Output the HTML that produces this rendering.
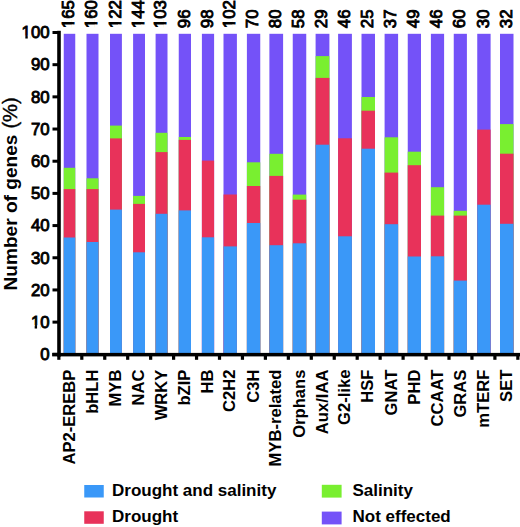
<!DOCTYPE html>
<html><head><meta charset="utf-8"><style>
html,body{margin:0;padding:0;background:#fff;}
svg{display:block;}
.tl{font-family:"Liberation Sans",sans-serif;font-weight:bold;font-size:16.6px;fill:#000;}
.nm{font-family:"Liberation Sans",sans-serif;font-weight:normal;font-size:16.8px;fill:#000;stroke:#000;stroke-width:0.9px;}
.yt{font-family:"Liberation Sans",sans-serif;font-weight:bold;font-size:19.4px;fill:#000;}
.lg{font-family:"Liberation Sans",sans-serif;font-weight:bold;font-size:17px;fill:#000;}
</style></head><body>
<svg width="520" height="527" viewBox="0 0 520 527">
<rect x="0" y="0" width="520" height="527" fill="#fff"/>
<rect x="63.75" y="33.8" width="11.50" height="319.20" fill="#7452f8"/>
<rect x="63.75" y="167.8" width="11.50" height="185.20" fill="#79ef30"/>
<rect x="63.75" y="189.1" width="11.50" height="163.90" fill="#e8325a"/>
<rect x="63.75" y="237.5" width="11.50" height="115.50" fill="#3a98f8"/>
<rect x="86.5" y="33.8" width="12.00" height="319.20" fill="#7452f8"/>
<rect x="86.5" y="178.3" width="12.00" height="174.70" fill="#79ef30"/>
<rect x="86.5" y="189.1" width="12.00" height="163.90" fill="#e8325a"/>
<rect x="86.5" y="242" width="12.00" height="111.00" fill="#3a98f8"/>
<rect x="110" y="33.8" width="11.90" height="319.20" fill="#7452f8"/>
<rect x="110" y="125.6" width="11.90" height="227.40" fill="#79ef30"/>
<rect x="110" y="138.4" width="11.90" height="214.60" fill="#e8325a"/>
<rect x="110" y="209.6" width="11.90" height="143.40" fill="#3a98f8"/>
<rect x="133.1" y="33.8" width="11.90" height="319.20" fill="#7452f8"/>
<rect x="133.1" y="195.9" width="11.90" height="157.10" fill="#79ef30"/>
<rect x="133.1" y="203.9" width="11.90" height="149.10" fill="#e8325a"/>
<rect x="133.1" y="252.3" width="11.90" height="100.70" fill="#3a98f8"/>
<rect x="155.6" y="33.8" width="11.90" height="319.20" fill="#7452f8"/>
<rect x="155.6" y="132.8" width="11.90" height="220.20" fill="#79ef30"/>
<rect x="155.6" y="152.1" width="11.90" height="200.90" fill="#e8325a"/>
<rect x="155.6" y="213.8" width="11.90" height="139.20" fill="#3a98f8"/>
<rect x="178.75" y="33.8" width="12.25" height="319.20" fill="#7452f8"/>
<rect x="178.75" y="137" width="12.25" height="216.00" fill="#79ef30"/>
<rect x="178.75" y="139.9" width="12.25" height="213.10" fill="#e8325a"/>
<rect x="178.75" y="210.4" width="12.25" height="142.60" fill="#3a98f8"/>
<rect x="201.9" y="33.8" width="12.20" height="319.20" fill="#7452f8"/>
<rect x="201.9" y="160.6" width="12.20" height="192.40" fill="#e8325a"/>
<rect x="201.9" y="237.3" width="12.20" height="115.70" fill="#3a98f8"/>
<rect x="223.5" y="33.8" width="13.40" height="319.20" fill="#7452f8"/>
<rect x="223.5" y="194.5" width="13.40" height="158.50" fill="#e8325a"/>
<rect x="223.5" y="246.4" width="13.40" height="106.60" fill="#3a98f8"/>
<rect x="246.9" y="33.8" width="13.35" height="319.20" fill="#7452f8"/>
<rect x="246.9" y="162.3" width="13.35" height="190.70" fill="#79ef30"/>
<rect x="246.9" y="186" width="13.35" height="167.00" fill="#e8325a"/>
<rect x="246.9" y="223" width="13.35" height="130.00" fill="#3a98f8"/>
<rect x="269.4" y="33.8" width="13.70" height="319.20" fill="#7452f8"/>
<rect x="269.4" y="153.8" width="13.70" height="199.20" fill="#79ef30"/>
<rect x="269.4" y="175.9" width="13.70" height="177.10" fill="#e8325a"/>
<rect x="269.4" y="245.2" width="13.70" height="107.80" fill="#3a98f8"/>
<rect x="292.75" y="33.8" width="13.50" height="319.20" fill="#7452f8"/>
<rect x="292.75" y="194.6" width="13.50" height="158.40" fill="#79ef30"/>
<rect x="292.75" y="199.7" width="13.50" height="153.30" fill="#e8325a"/>
<rect x="292.75" y="243.3" width="13.50" height="109.70" fill="#3a98f8"/>
<rect x="315.6" y="33.8" width="13.80" height="319.20" fill="#7452f8"/>
<rect x="315.6" y="56.1" width="13.80" height="296.90" fill="#79ef30"/>
<rect x="315.6" y="77.9" width="13.80" height="275.10" fill="#e8325a"/>
<rect x="315.6" y="144.7" width="13.80" height="208.30" fill="#3a98f8"/>
<rect x="338.1" y="33.8" width="13.80" height="319.20" fill="#7452f8"/>
<rect x="338.1" y="138.3" width="13.80" height="214.70" fill="#e8325a"/>
<rect x="338.1" y="236.3" width="13.80" height="116.70" fill="#3a98f8"/>
<rect x="361.5" y="33.8" width="13.50" height="319.20" fill="#7452f8"/>
<rect x="361.5" y="97" width="13.50" height="256.00" fill="#79ef30"/>
<rect x="361.5" y="110.7" width="13.50" height="242.30" fill="#e8325a"/>
<rect x="361.5" y="148.7" width="13.50" height="204.30" fill="#3a98f8"/>
<rect x="384.6" y="33.8" width="13.50" height="319.20" fill="#7452f8"/>
<rect x="384.6" y="137.3" width="13.50" height="215.70" fill="#79ef30"/>
<rect x="384.6" y="172.6" width="13.50" height="180.40" fill="#e8325a"/>
<rect x="384.6" y="224.2" width="13.50" height="128.80" fill="#3a98f8"/>
<rect x="407.75" y="33.8" width="13.25" height="319.20" fill="#7452f8"/>
<rect x="407.75" y="151.7" width="13.25" height="201.30" fill="#79ef30"/>
<rect x="407.75" y="165.2" width="13.25" height="187.80" fill="#e8325a"/>
<rect x="407.75" y="256.5" width="13.25" height="96.50" fill="#3a98f8"/>
<rect x="430.9" y="33.8" width="13.20" height="319.20" fill="#7452f8"/>
<rect x="430.9" y="187.2" width="13.20" height="165.80" fill="#79ef30"/>
<rect x="430.9" y="215.6" width="13.20" height="137.40" fill="#e8325a"/>
<rect x="430.9" y="256.3" width="13.20" height="96.70" fill="#3a98f8"/>
<rect x="453.75" y="33.8" width="13.15" height="319.20" fill="#7452f8"/>
<rect x="453.75" y="210.8" width="13.15" height="142.20" fill="#79ef30"/>
<rect x="453.75" y="215.6" width="13.15" height="137.40" fill="#e8325a"/>
<rect x="453.75" y="280.6" width="13.15" height="72.40" fill="#3a98f8"/>
<rect x="477.25" y="33.8" width="13.35" height="319.20" fill="#7452f8"/>
<rect x="477.25" y="129.6" width="13.35" height="223.40" fill="#e8325a"/>
<rect x="477.25" y="204.7" width="13.35" height="148.30" fill="#3a98f8"/>
<rect x="500" y="33.8" width="13.50" height="319.20" fill="#7452f8"/>
<rect x="500" y="124.1" width="13.50" height="228.90" fill="#79ef30"/>
<rect x="500" y="153.7" width="13.50" height="199.30" fill="#e8325a"/>
<rect x="500" y="223.8" width="13.50" height="129.20" fill="#3a98f8"/>
<rect x="57.2" y="30.8" width="3.6" height="325.8" fill="#000"/>
<rect x="52.2" y="352.9" width="467.8" height="3.5" fill="#000"/>
<rect x="52.5" y="352.80" width="6" height="3" fill="#000"/>
<text x="49.6" y="360.10" text-anchor="end" class="nm">0</text>
<rect x="52.5" y="320.62" width="6" height="3" fill="#000"/>
<text x="49.6" y="327.92" text-anchor="end" class="nm">10</text>
<rect x="30.94" y="325.31" width="3.74" height="3.81" fill="#fff"/>
<rect x="37.07" y="325.31" width="3.16" height="3.81" fill="#fff"/>
<rect x="52.5" y="288.44" width="6" height="3" fill="#000"/>
<text x="49.6" y="295.74" text-anchor="end" class="nm">20</text>
<rect x="52.5" y="256.26" width="6" height="3" fill="#000"/>
<text x="49.6" y="263.56" text-anchor="end" class="nm">30</text>
<rect x="52.5" y="224.08" width="6" height="3" fill="#000"/>
<text x="49.6" y="231.38" text-anchor="end" class="nm">40</text>
<rect x="52.5" y="191.90" width="6" height="3" fill="#000"/>
<text x="49.6" y="199.20" text-anchor="end" class="nm">50</text>
<rect x="52.5" y="159.72" width="6" height="3" fill="#000"/>
<text x="49.6" y="167.02" text-anchor="end" class="nm">60</text>
<rect x="52.5" y="127.54" width="6" height="3" fill="#000"/>
<text x="49.6" y="134.84" text-anchor="end" class="nm">70</text>
<rect x="52.5" y="95.36" width="6" height="3" fill="#000"/>
<text x="49.6" y="102.66" text-anchor="end" class="nm">80</text>
<rect x="52.5" y="63.18" width="6" height="3" fill="#000"/>
<text x="49.6" y="70.48" text-anchor="end" class="nm">90</text>
<rect x="52.5" y="31.00" width="6" height="3" fill="#000"/>
<text x="49.6" y="38.30" text-anchor="end" class="nm">100</text>
<rect x="21.60" y="35.69" width="3.74" height="3.81" fill="#fff"/>
<rect x="27.73" y="35.69" width="3.16" height="3.81" fill="#fff"/>
<rect x="57.25" y="354" width="3.2" height="5.8" fill="#000"/>
<rect x="80.20" y="354" width="3.2" height="5.8" fill="#000"/>
<rect x="103.15" y="354" width="3.2" height="5.8" fill="#000"/>
<rect x="126.10" y="354" width="3.2" height="5.8" fill="#000"/>
<rect x="149.05" y="354" width="3.2" height="5.8" fill="#000"/>
<rect x="172.00" y="354" width="3.2" height="5.8" fill="#000"/>
<rect x="194.95" y="354" width="3.2" height="5.8" fill="#000"/>
<rect x="217.90" y="354" width="3.2" height="5.8" fill="#000"/>
<rect x="240.85" y="354" width="3.2" height="5.8" fill="#000"/>
<rect x="263.80" y="354" width="3.2" height="5.8" fill="#000"/>
<rect x="286.75" y="354" width="3.2" height="5.8" fill="#000"/>
<rect x="309.70" y="354" width="3.2" height="5.8" fill="#000"/>
<rect x="332.65" y="354" width="3.2" height="5.8" fill="#000"/>
<rect x="355.60" y="354" width="3.2" height="5.8" fill="#000"/>
<rect x="378.55" y="354" width="3.2" height="5.8" fill="#000"/>
<rect x="401.50" y="354" width="3.2" height="5.8" fill="#000"/>
<rect x="424.45" y="354" width="3.2" height="5.8" fill="#000"/>
<rect x="447.40" y="354" width="3.2" height="5.8" fill="#000"/>
<rect x="470.35" y="354" width="3.2" height="5.8" fill="#000"/>
<rect x="493.30" y="354" width="3.2" height="5.8" fill="#000"/>
<rect x="516.25" y="354" width="3.2" height="5.8" fill="#000"/>
<text transform="translate(74.40,28.2) rotate(-90)" class="nm">165</text>
<rect x="71.79" y="24.43" width="3.81" height="3.74" fill="#fff"/>
<rect x="71.79" y="18.88" width="3.81" height="3.16" fill="#fff"/>
<text transform="translate(97.40,28.2) rotate(-90)" class="nm">160</text>
<rect x="94.79" y="24.43" width="3.81" height="3.74" fill="#fff"/>
<rect x="94.79" y="18.88" width="3.81" height="3.16" fill="#fff"/>
<text transform="translate(120.85,28.2) rotate(-90)" class="nm">122</text>
<rect x="118.24" y="24.43" width="3.81" height="3.74" fill="#fff"/>
<rect x="118.24" y="18.88" width="3.81" height="3.16" fill="#fff"/>
<text transform="translate(143.95,28.2) rotate(-90)" class="nm">144</text>
<rect x="141.34" y="24.43" width="3.81" height="3.74" fill="#fff"/>
<rect x="141.34" y="18.88" width="3.81" height="3.16" fill="#fff"/>
<text transform="translate(166.45,28.2) rotate(-90)" class="nm">103</text>
<rect x="163.84" y="24.43" width="3.81" height="3.74" fill="#fff"/>
<rect x="163.84" y="18.88" width="3.81" height="3.16" fill="#fff"/>
<text transform="translate(189.78,28.2) rotate(-90)" class="nm">96</text>
<text transform="translate(212.90,28.2) rotate(-90)" class="nm">98</text>
<text transform="translate(235.10,28.2) rotate(-90)" class="nm">102</text>
<rect x="232.49" y="24.43" width="3.81" height="3.74" fill="#fff"/>
<rect x="232.49" y="18.88" width="3.81" height="3.16" fill="#fff"/>
<text transform="translate(258.47,28.2) rotate(-90)" class="nm">70</text>
<text transform="translate(281.15,28.2) rotate(-90)" class="nm">80</text>
<text transform="translate(304.40,28.2) rotate(-90)" class="nm">58</text>
<text transform="translate(327.40,28.2) rotate(-90)" class="nm">29</text>
<text transform="translate(349.90,28.2) rotate(-90)" class="nm">46</text>
<text transform="translate(373.15,28.2) rotate(-90)" class="nm">25</text>
<text transform="translate(396.25,28.2) rotate(-90)" class="nm">37</text>
<text transform="translate(419.27,28.2) rotate(-90)" class="nm">49</text>
<text transform="translate(442.40,28.2) rotate(-90)" class="nm">46</text>
<text transform="translate(465.22,28.2) rotate(-90)" class="nm">60</text>
<text transform="translate(488.82,28.2) rotate(-90)" class="nm">30</text>
<text transform="translate(511.65,28.2) rotate(-90)" class="nm">32</text>
<text transform="translate(74.70,369.6) rotate(-90)" text-anchor="end" class="tl">AP2-EREBP</text>
<text transform="translate(97.70,369.6) rotate(-90)" text-anchor="end" class="tl">bHLH</text>
<text transform="translate(121.15,369.6) rotate(-90)" text-anchor="end" class="tl">MYB</text>
<text transform="translate(144.25,369.6) rotate(-90)" text-anchor="end" class="tl">NAC</text>
<text transform="translate(166.75,369.6) rotate(-90)" text-anchor="end" class="tl">WRKY</text>
<text transform="translate(190.07,369.6) rotate(-90)" text-anchor="end" class="tl">bZIP</text>
<text transform="translate(213.20,369.6) rotate(-90)" text-anchor="end" class="tl">HB</text>
<text transform="translate(235.40,369.6) rotate(-90)" text-anchor="end" class="tl">C2H2</text>
<text transform="translate(258.77,369.6) rotate(-90)" text-anchor="end" class="tl">C3H</text>
<text transform="translate(281.45,369.6) rotate(-90)" text-anchor="end" class="tl">MYB-related</text>
<text transform="translate(304.70,369.6) rotate(-90)" text-anchor="end" class="tl">Orphans</text>
<text transform="translate(327.70,369.6) rotate(-90)" text-anchor="end" class="tl">Aux/IAA</text>
<text transform="translate(350.20,369.6) rotate(-90)" text-anchor="end" class="tl">G2-like</text>
<text transform="translate(373.45,369.6) rotate(-90)" text-anchor="end" class="tl">HSF</text>
<text transform="translate(396.55,369.6) rotate(-90)" text-anchor="end" class="tl">GNAT</text>
<text transform="translate(419.57,369.6) rotate(-90)" text-anchor="end" class="tl">PHD</text>
<text transform="translate(442.70,369.6) rotate(-90)" text-anchor="end" class="tl">CCAAT</text>
<text transform="translate(465.52,369.6) rotate(-90)" text-anchor="end" class="tl">GRAS</text>
<text transform="translate(489.12,369.6) rotate(-90)" text-anchor="end" class="tl">mTERF</text>
<text transform="translate(511.95,369.6) rotate(-90)" text-anchor="end" class="tl">SET</text>
<text transform="translate(16.9,290.5) rotate(-90)" class="yt" style="font-size:19.1px">Number of genes</text>
<text transform="translate(17.3,128.6) rotate(-90)" class="yt" style="font-weight:normal;font-size:20.2px;stroke:#000;stroke-width:0.4px">(%)</text>
<rect x="84.25" y="485" width="19.5" height="12.5" fill="#3a98f8"/>
<rect x="84.25" y="511.3" width="19.5" height="12.5" fill="#e8325a"/>
<rect x="321.8" y="484.8" width="19.8" height="12.8" fill="#79ef30"/>
<rect x="321.8" y="511.6" width="19.8" height="12.8" fill="#7452f8"/>
<text x="112" y="496" class="lg">Drought and salinity</text>
<text x="112" y="522.3" class="lg">Drought</text>
<text x="352.5" y="496" class="lg">Salinity</text>
<text x="352.5" y="522.3" class="lg">Not effected</text>
</svg>
</body></html>
